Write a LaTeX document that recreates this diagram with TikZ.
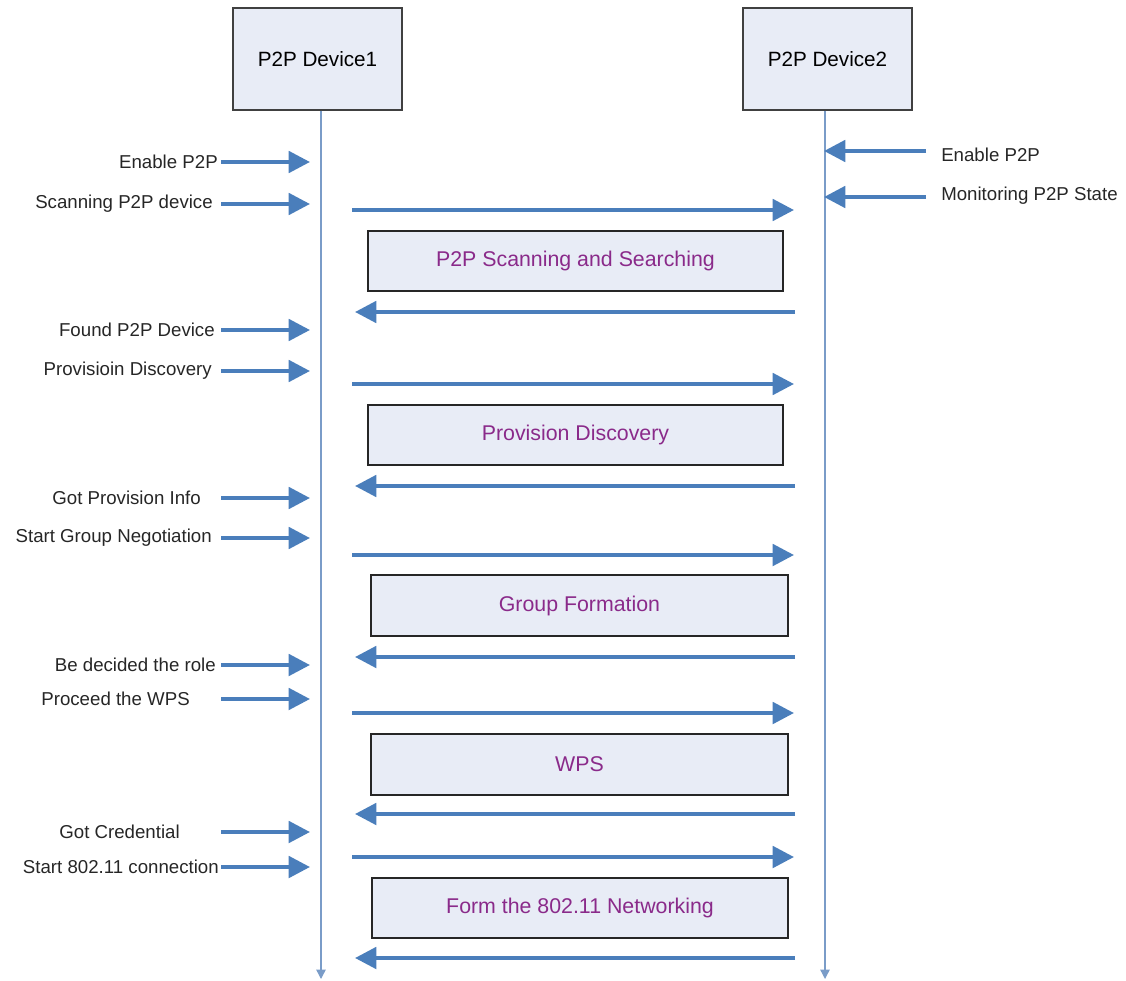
\documentclass[tikz,border=0pt]{standalone}
\usepackage{fontspec}
\setmainfont{Liberation Sans}
\usetikzlibrary{arrows.meta}
\definecolor{arrowblue}{HTML}{4A7EBB}
\definecolor{lifeblue}{HTML}{7A9CC8}
\definecolor{boxfill}{HTML}{E8ECF6}
\definecolor{phasetext}{HTML}{8A2A8A}
\tikzset{
  devbox/.style={draw=black!75, line width=1.1pt, fill=boxfill, minimum width=169*0.75pt, minimum height=102*0.75pt, inner sep=0pt, font=\fontsize{15.5}{18}\selectfont},
  phasebox/.style={draw=black!85, line width=1.1pt, fill=boxfill, inner sep=0pt, text=phasetext, font=\fontsize{16}{19}\selectfont},
  lbl/.style={font=\fontsize{14}{16}\selectfont, inner sep=0pt, text=black!85},
  bigarrow/.style={draw=arrowblue, line width=3pt, -{Triangle[length=16pt,width=16pt]}},
  lifeline/.style={draw=lifeblue, line width=1pt, -{Triangle[length=7pt,width=7pt]}},
}
\begin{document}
\begin{tikzpicture}[x=0.75pt,y=-0.75pt]
\useasboundingbox (0,0) rectangle (1126,980);
% devices
\node[devbox] (d1) at (317.5,59) {P2P Device1};
\node[devbox] (d2) at (827.5,59) {P2P Device2};
\coordinate (e1) at (321,979);
\coordinate (e2) at (825,979);
\draw[lifeline] (d1.south -| e1) -- (e1);
\draw[lifeline] (d2.south -| e2) -- (e2);

% left annotations
\foreach \n/\y/\xe/\t in {a/162/218/{Enable P2P},b/204/213/{Scanning P2P device},c/330/215/{Found P2P Device},d/371/212/{Provisioin Discovery},e/498/201/{Got Provision Info},f/538/212/{Start Group Negotiation},g/665/216/{Be decided the role},h/699/190/{Proceed the WPS},i/832/180/{Got Credential},j/867/219/{Start 802.11 connection}}{
  \node[lbl, anchor=east] (l\n) at (\xe,\y) {\t};
  \coordinate (ls\n) at (221,\y);
  \coordinate (lt\n) at (310,\y);
  \draw[bigarrow] (ls\n) -- (lt\n);
}

% right annotations
\node[lbl, anchor=west] (ra) at (941,155) {Enable P2P};
\node[lbl, anchor=west] (rb) at (941,196) {Monitoring P2P State};
\coordinate (rsa) at (926,151);
\coordinate (rta) at (824,151);
\coordinate (rsb) at (926,197);
\coordinate (rtb) at (824,197);
\draw[bigarrow] (rsa) -- (rta);
\draw[bigarrow] (rsb) -- (rtb);

% phases
\foreach \n/\yf/\yt/\yb/\ybk/\xl/\xr/\t in {
  p1/210/231/291/312/368/783/{P2P Scanning and Searching},
  p2/384/405/465/486/368/783/{Provision Discovery},
  p3/555/575/636/657/371/788/{Group Formation},
  p4/713/734/795/814/371/788/{WPS},
  p5/857/878/938/958/372/788/{Form the 802.11 Networking}}{
  \node[phasebox, minimum width={(\xr-\xl)*0.75pt}, minimum height={(\yb-\yt)*0.75pt}] (\n) at ({(\xl+\xr)/2},{(\yt+\yb)/2}) {\t};
  \coordinate (\n fs) at (352,\yf);
  \coordinate (\n ft) at (794,\yf);
  \coordinate (\n bs) at (795,\ybk);
  \coordinate (\n bt) at (355,\ybk);
  \draw[bigarrow] (\n fs) -- (\n ft);
  \draw[bigarrow] (\n bs) -- (\n bt);
}
\end{tikzpicture}
\end{document}
